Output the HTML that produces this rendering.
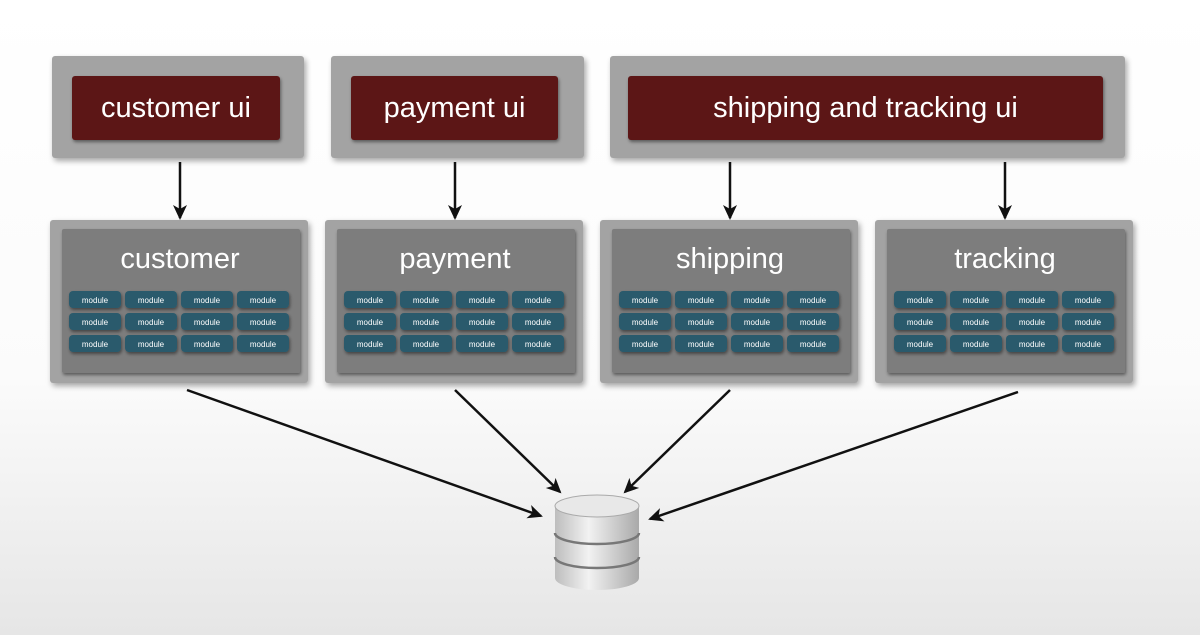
<!DOCTYPE html>
<html><head><meta charset="utf-8"><style>
html,body{margin:0;padding:0;width:1200px;height:635px;overflow:hidden;background:linear-gradient(#fff 0%,#fbfbfb 60%,#e6e6e6 100%);}
svg{display:block}
text{font-family:"Liberation Sans",sans-serif;fill:#fff}
</style></head><body>
<svg id="s" width="1200" height="635" viewBox="0 0 1200 635" xmlns="http://www.w3.org/2000/svg">
<defs>
<filter id="sh" x="-10%" y="-10%" width="130%" height="140%"><feDropShadow dx="2" dy="3" stdDeviation="3" flood-color="#000" flood-opacity="0.35"/></filter>
<filter id="sh2" x="-10%" y="-10%" width="130%" height="140%"><feDropShadow dx="1" dy="2" stdDeviation="1.5" flood-color="#000" flood-opacity="0.45"/></filter>
<marker id="ah" markerWidth="16" markerHeight="16" refX="13" refY="7" orient="auto" markerUnits="userSpaceOnUse"><path d="M0,0 L15,7 L0,14 L4,7 z" fill="#111"/></marker>
<linearGradient id="db" x1="0" x2="1"><stop offset="0" stop-color="#bdbdbd"/><stop offset="0.4" stop-color="#f2f2f2"/><stop offset="1" stop-color="#a9a9a9"/></linearGradient>
</defs>
<g id="g"></g>
<g stroke="#111" stroke-width="2.5" fill="none" marker-end="url(#ah)">
<line x1="180" y1="162" x2="180" y2="218"/>
<line x1="455" y1="162" x2="455" y2="218"/>
<line x1="730" y1="162" x2="730" y2="218"/>
<line x1="1005" y1="162" x2="1005" y2="218"/>
<line x1="187" y1="390" x2="541" y2="516"/>
<line x1="455" y1="390" x2="560" y2="492"/>
<line x1="730" y1="390" x2="625" y2="492"/>
<line x1="1018" y1="392" x2="650" y2="519"/>
</g>
<g>
<path d="M555,506 v72 a42,12 0 0 0 84,0 v-72 z" fill="url(#db)"/>
<ellipse cx="597" cy="506" rx="42" ry="11" fill="#e8e8e8" stroke="#aaa"/>
<path d="M555,533 a42,11 0 0 0 84,0" fill="none" stroke="#777" stroke-width="2.5"/>
<path d="M555,557 a42,11 0 0 0 84,0" fill="none" stroke="#777" stroke-width="2.5"/>
</g>
</svg>
<script>
var g=document.getElementById('g'),NS="http://www.w3.org/2000/svg";
function el(t,a,txt){var e=document.createElementNS(NS,t);for(var k in a)e.setAttribute(k,a[k]);if(txt)e.textContent=txt;g.appendChild(e);return e;}
[[52,252,72,208,'customer ui'],[331,253,351,207,'payment ui'],[610,515,628,475,'shipping and tracking ui']].forEach(function(b){
el('rect',{x:b[0],y:56,width:b[1],height:102,rx:3,fill:'#a3a3a3',filter:'url(#sh)'});
el('rect',{x:b[2],y:76,width:b[3],height:64,rx:3,fill:'#5c1716',filter:'url(#sh2)'});
el('text',{x:b[2]+b[3]/2,y:117,'text-anchor':'middle','font-size':29},b[4]);
});
[[50,'customer'],[325,'payment'],[600,'shipping'],[875,'tracking']].forEach(function(b){
var x=b[0];
el('rect',{x:x,y:220,width:258,height:163,rx:3,fill:'#a3a3a3',filter:'url(#sh)'});
el('rect',{x:x+12,y:229,width:238,height:144,rx:2,fill:'#7d7d7d',filter:'url(#sh2)'});
el('text',{x:x+130,y:268,'text-anchor':'middle','font-size':29},b[1]);
for(var r=0;r<3;r++)for(var c=0;c<4;c++){
var mx=x+19+c*56,my=291+r*22;
el('rect',{x:mx,y:my,width:52,height:17,rx:4,fill:'#2a5a6c',filter:'url(#sh2)'});
el('text',{x:mx+26,y:my+12,'text-anchor':'middle','font-size':8,fill:'#cfe0e6'},'module');
}
});
</script>
</body></html>
